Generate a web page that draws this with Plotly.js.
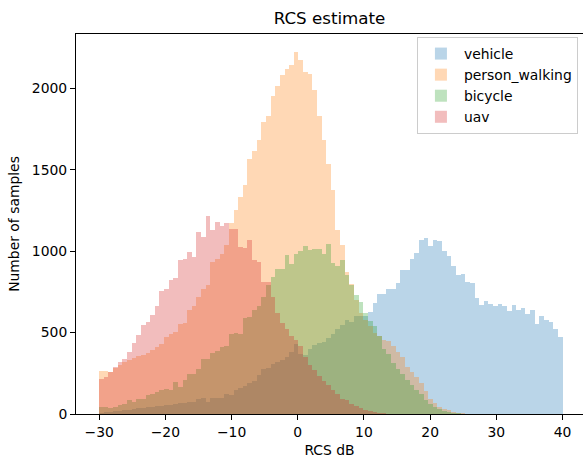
<!DOCTYPE html>
<html><head><meta charset="utf-8">
<script src="https://cdn.plot.ly/plotly-3.0.1.min.js"></script>
<style>html,body{margin:0;padding:0;background:#fff}</style>
</head><body><div id="chart" style="width:583px;height:459px"></div>
<script>
// histogram bins: 100 bins from -30 to 40
const binStart = -30;
const binWidth = 0.7;
const seriesNames = ['vehicle', 'person_walking', 'bicycle', 'uav'];
const seriesColors = ['#1f77b4', '#ff7f0e', '#2ca02c', '#d62728'];
const xTicks = [-30, -20, -10, 0, 10, 20, 30, 40];
const yTicks = [0, 500, 1000, 1500, 2000];

const vehicle = [8,12,15,18,20,24,27,30,34,38,42,45,48,50,55,58,60,65,68,72,
  73,90,100,75,100,98,100,120,118,150,160,170,190,205,240,275,285,310,320,330,
  350,380,430,370,365,400,425,435,440,465,490,520,545,580,565,600,600,600,626,682,
  735,735,765,770,805,887,883,954,991,1071,1083,1030,1071,1061,999,968,909,856,862,811,
  805,715,672,692,678,662,678,662,631,672,637,651,617,641,555,600,580,565,524,473];
const personWalking = [264,264,258,280,300,318,330,345,355,362,375,395,410,430,475,494,505,550,560,640,
  662,720,768,790,934,950,985,1035,1173,1255,1333,1405,1563,1616,1682,1794,1829,1952,2014,2081,
  2116,2143,2225,2173,2098,2085,1989,1829,1681,1537,1374,1128,1036,872,800,700,620,580,540,500,
  480,452,450,420,380,350,290,258,230,190,140,90,65,45,33,22,12,8,5,3,
  2,1,1,0,0,0,0,0,0,0,0,0,0,0,0,0,0,0,0,0];
const bicycle = [45,42,35,40,55,63,84,73,94,94,114,120,135,145,155,150,196,165,206,247,
  245,278,338,338,372,384,409,418,489,498,494,592,596,637,664,719,791,842,893,893,
  975,924,985,999,1030,1005,1010,1010,985,1042,928,907,944,852,790,733,690,620,570,540,
  480,400,370,315,275,245,210,178,148,120,85,63,45,33,18,12,8,5,3,2,
  1,0,0,0,0,0,0,0,0,0,0,0,0,0,0,0,0,0,0,0];
const uav = [216,228,258,290,320,338,379,436,483,545,565,606,662,755,770,821,838,948,954,995,
  964,1118,1087,1216,1128,1176,1155,1170,1134,1134,1026,1022,1067,944,934,811,811,719,620,560,
  520,480,455,420,350,300,270,232,200,180,145,125,95,85,63,48,36,26,17,12,
  8,5,3,2,1,0,0,0,0,0,0,0,0,0,0,0,0,0,0,0,
  0,0,0,0,0,0,0,0,0,0,0,0,0,0,0,0,0,0,0,0];

const allSeries = [vehicle, personWalking, bicycle, uav];
const centers = vehicle.map((_, i) => binStart + binWidth * (i + 0.5));

const traces = allSeries.map((vals, k) => ({
  type: 'bar',
  x: centers,
  y: vals,
  width: binWidth,
  name: seriesNames[k],
  legendgroup: 'g' + k,
  opacity: 0.3,
  marker: {color: seriesColors[k], line: {width: 0}},
  hoverinfo: 'skip'
}));

const layout = {
  width: 583, height: 459,
  margin: {l: 76, r: 0, t: 34, b: 45, pad: 0},
  paper_bgcolor: '#ffffff', plot_bgcolor: '#ffffff',
  barmode: 'overlay', bargap: 0,
  font: {family: 'DejaVu Sans', size: 13.9, color: '#000000'},
  title: {text: 'RCS estimate', font: {size: 16.7, color: '#000000'},
          x: 0.5, xref: 'paper', xanchor: 'center',
          y: 1 - 18 / 459, yref: 'container', yanchor: 'middle'},
  xaxis: {range: [-33.5, 43.09], tickvals: xTicks, ticks: 'outside', ticklen: 5,
          tickwidth: 1, tickcolor: '#000', showline: true, linecolor: '#000', linewidth: 1,
          mirror: true, showgrid: false, zeroline: false,
          tickfont: {size: 13.9},
          title: {text: 'RCS dB', font: {size: 13.9}, standoff: 6}},
  yaxis: {range: [0, 2333], tickvals: yTicks, ticks: 'outside', ticklen: 5,
          tickwidth: 1, tickcolor: '#000', showline: true, linecolor: '#000', linewidth: 1,
          showgrid: false, zeroline: false, tickfont: {size: 13.9},
          title: {text: 'Number of samples', font: {size: 13.9}, standoff: 8}},
  legend: {x: 0.99, xanchor: 'right', y: 0.992, yanchor: 'top',
           bgcolor: 'rgba(255,255,255,0.8)', bordercolor: '#cccccc', borderwidth: 1,
           font: {size: 13.9}, traceorder: 'grouped', tracegroupgap: 0, itemwidth: 36}
};

Plotly.newPlot('chart', traces, layout, {displayModeBar: false, staticPlot: true});
</script>
</body></html>
